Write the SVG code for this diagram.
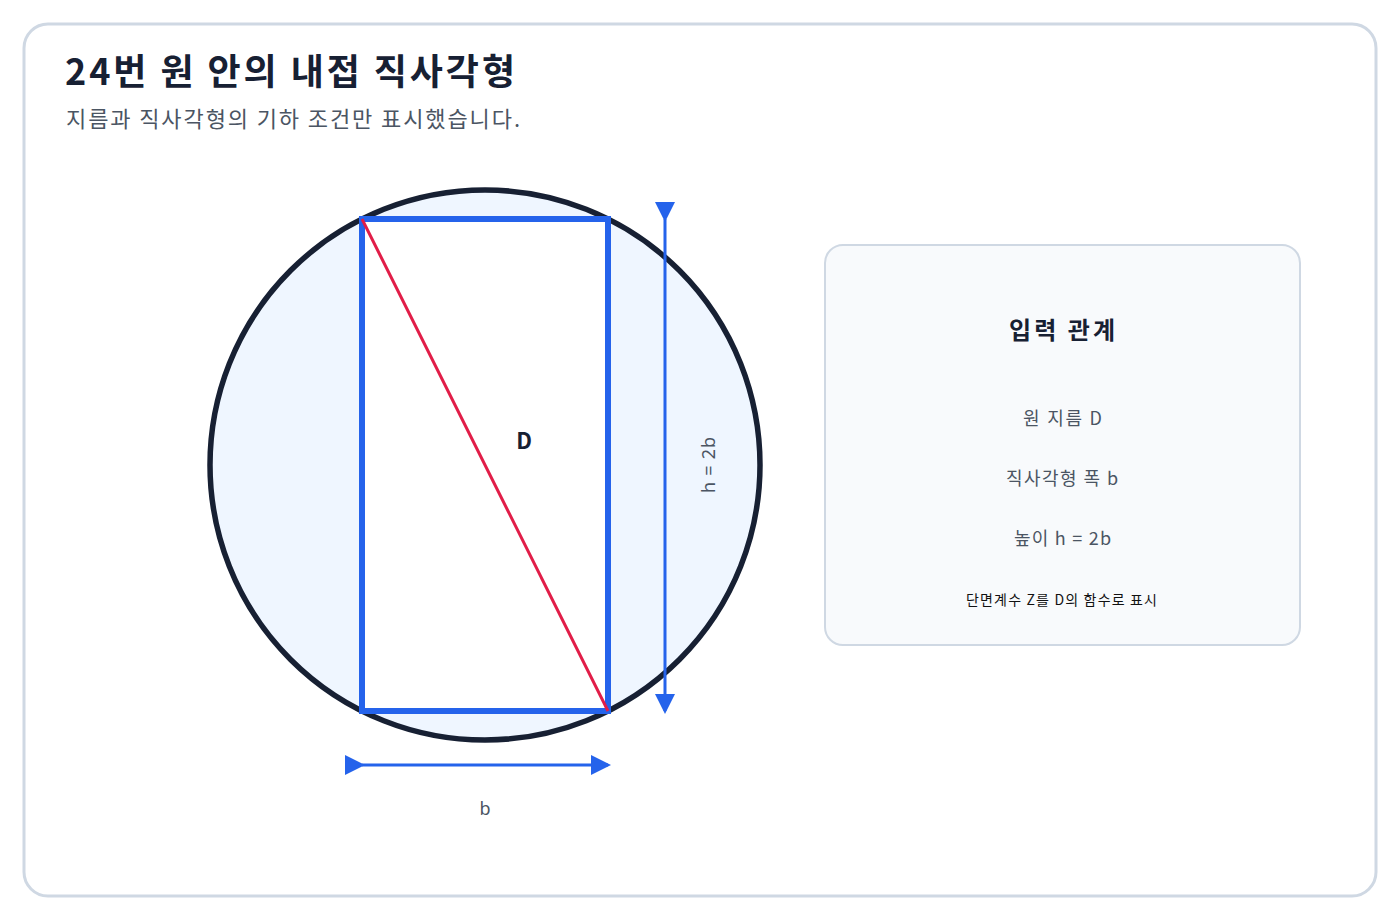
<svg xmlns="http://www.w3.org/2000/svg" width="1400" height="920" viewBox="0 0 1400 920">
<style>
.t{font-family:"Noto Sans CJK KR","Noto Sans",sans-serif}
.lab{font-family:"Noto Sans","Noto Sans CJK KR",sans-serif;font-size:18px;fill:#4b5563;text-anchor:middle}
.dim{stroke:#2563eb;stroke-width:3;fill:none}
</style>
<defs>
<marker id="ah" viewBox="0 0 10 10" refX="8.5" refY="5" markerWidth="20" markerHeight="20" markerUnits="userSpaceOnUse" orient="auto">
<path d="M0,0 L10,5 L0,10 Z" fill="#2563eb"/>
</marker>
</defs>
<rect x="0" y="0" width="1400" height="920" fill="#ffffff"/>
<rect x="24" y="24" width="1352" height="872" rx="24" fill="#ffffff" stroke="#cfd8e3" stroke-width="3"/>
<g id="title">
<text class="t" x="65" y="85" font-size="36" font-weight="700" fill="#172033" textLength="450" lengthAdjust="spacing">24번 원 안의 내접 직사각형</text>
<text class="t" x="66" y="127" font-size="22" fill="#4b5563" textLength="454" lengthAdjust="spacing">지름과 직사각형의 기하 조건만 표시했습니다.</text>
</g>
<g id="circle">
<circle cx="485" cy="465" r="275" fill="#eff6ff" stroke="#172033" stroke-width="5.5"/>
</g>
<g id="rectangle">
<rect x="362" y="219" width="246" height="492" fill="#ffffff" stroke="#2563eb" stroke-width="6"/>
</g>
<g id="diagonal">
<line x1="362" y1="219" x2="608" y2="711" stroke="#e11d48" stroke-width="3"/>
<text class="t" x="524" y="449" font-size="22" font-weight="700" fill="#172033" text-anchor="middle">D</text>
</g>
<g id="connectors">
<line class="dim" x1="362" y1="765" x2="608" y2="765" marker-start="url(#ah)" marker-end="url(#ah)"/>
<line class="dim" x1="665" y1="219" x2="665" y2="711" marker-start="url(#ah)" marker-end="url(#ah)"/>
</g>
<g id="dim-labels">
<text class="lab" x="485" y="815">b</text>
<text class="lab" x="0" y="0" transform="translate(715,465) rotate(-90)" textLength="56" lengthAdjust="spacing">h = 2b</text>
</g>
<g id="panel">
<rect x="825" y="245" width="475" height="400" rx="18" fill="#f8fafc" stroke="#cfd8e3" stroke-width="2"/>
<text class="t" x="1009" y="339" font-size="24" font-weight="700" fill="#172033" textLength="106" lengthAdjust="spacing">입력 관계</text>
<text class="t" x="1023" y="425" font-size="18" fill="#4b5563" textLength="79" lengthAdjust="spacing">원 지름 D</text>
<text class="t" x="1006" y="485" font-size="18" fill="#4b5563" textLength="112" lengthAdjust="spacing">직사각형 폭 b</text>
<text class="t" x="1014" y="545" font-size="18" fill="#4b5563" textLength="97" lengthAdjust="spacing">높이 h = 2b</text>
<text class="t" x="966" y="605" font-size="14" fill="#111111" textLength="191" lengthAdjust="spacing">단면계수 Z를 D의 함수로 표시</text>
</g>
</svg>
